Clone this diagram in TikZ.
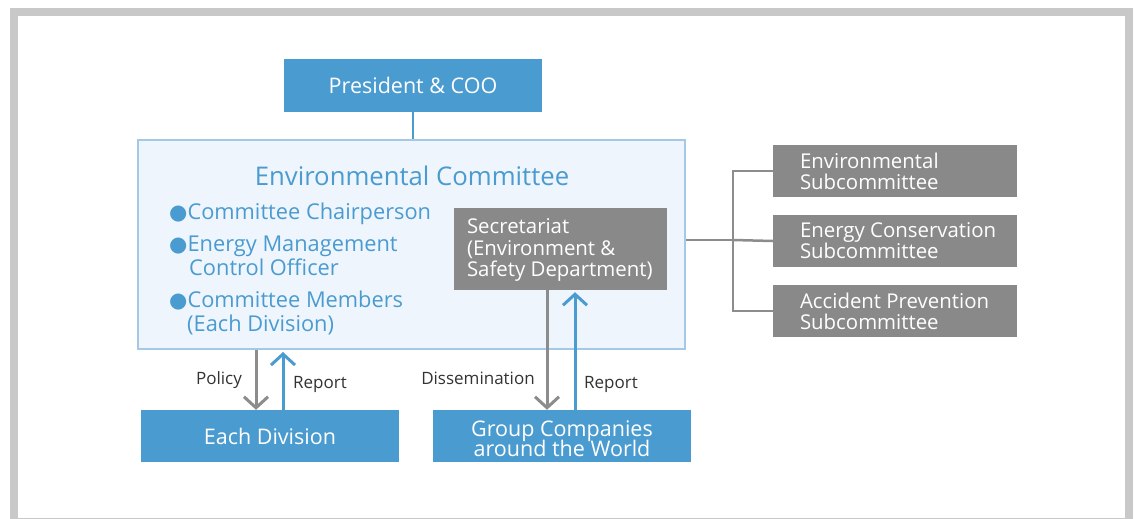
\documentclass[tikz,border=0pt]{standalone}
\usepackage{fontspec}
\setmainfont{Open Sans}
\newfontfamily\symfont{DejaVu Sans}
\usetikzlibrary{arrows.meta}
\definecolor{boxblue}{HTML}{4A9BCF}
\definecolor{textblue}{HTML}{4A9BD0}
\definecolor{boxgray}{HTML}{898989}
\definecolor{linegray}{HTML}{8C8C8C}
\definecolor{framegray}{HTML}{C8C8C8}
\definecolor{cfill}{HTML}{EFF5FC}
\definecolor{cborder}{HTML}{A5C8E6}
\definecolor{labeltext}{HTML}{333333}
\newcommand{\tightlines}{\lineskiplimit=-20pt\relax}
\tikzset{
  bluebox/.style={fill=boxblue, text=white, inner sep=0pt, align=center,
    minimum width=258pt, minimum height=52pt,
    font=\fontsize{21.5}{20}\selectfont, execute at begin node=\tightlines},
  graybox/.style={fill=boxgray, inner sep=0pt},
  graytext/.style={text=white, inner sep=0pt, anchor=west, align=left,
    font=\fontsize{20.4}{21}\selectfont, execute at begin node=\tightlines},
  item/.style={anchor=base west, text=textblue, inner sep=0pt,
    font=\fontsize{21.8}{24}\selectfont, align=left},
  flowlabel/.style={text=labeltext, inner sep=0pt, font=\fontsize{17}{17}\selectfont},
  downarrow/.style={draw=linegray, line width=3pt, -{Straight Barb[length=11pt,width=24pt]}},
  uparrow/.style={draw=boxblue, line width=3pt, -{Straight Barb[length=11pt,width=24pt]}},
  link/.style={draw=linegray, line width=2.5pt},
}
\newcommand{\bul}{{\symfont\fontsize{21}{21}\selectfont ●}}
\begin{document}
\begin{tikzpicture}[x=1pt, y=-1pt]
\useasboundingbox (0,0) rectangle (1135,519);
% outer frame
\fill[framegray] (10,8) rectangle (1133,519);
\fill[white] (18,16) rectangle (1125,517.5);

% top of the hierarchy
\node[bluebox] (coo) at (413,85.5) {President \& COO};

% committee panel
\node[draw=cborder, line width=2pt, fill=cfill, minimum width=547pt, minimum height=209pt,
      inner sep=0pt] (comm) at (411.5,244.5) {};
\draw[draw=boxblue, line width=2pt] (coo.south) -- (comm.north -| coo.south);
\node[text=textblue, inner sep=0pt, font=\fontsize{25.7}{26}\selectfont, anchor=base]
   (title) at (412,185) {Environmental Committee};
\node[item] (m1) at (169,219) {\bul Committee Chairperson};
\node[item] (m2) at (169,251) {\bul Energy Management};
\node[item] (m2b) at (189,275) {Control Officer};
\node[item] (m3) at (169,307) {\bul Committee Members};
\node[item] (m3b) at (187,331) {(Each Division)};

% secretariat
\node[graybox, minimum width=213pt, minimum height=82pt] (sec) at (560.5,249) {};
\node[graytext, font=\fontsize{20.4}{21.5}\selectfont] (sect)
  at ([xshift=13pt,yshift=-1pt]sec.west)
  {Secretariat\\(Environment \&\\Safety Department)};

% subcommittees
\node[graybox, minimum width=244pt, minimum height=52pt] (s1) at (895,171) {};
\node[graybox, minimum width=244pt, minimum height=52pt] (s2) at (895,241) {};
\node[graybox, minimum width=244pt, minimum height=52pt] (s3) at (895,311) {};
\node[graytext] (s1t) at ([xshift=27pt]s1.west) {Environmental\\Subcommittee};
\node[graytext] (s2t) at ([xshift=27pt]s2.west) {Energy Conservation\\Subcommittee};
\node[graytext] (s3t) at ([xshift=27pt]s3.west) {Accident Prevention\\Subcommittee};
\coordinate (fork) at (733,240);
\draw[link] (comm.east |- fork) -- (fork);
\draw[link] (s1.west) -| (fork) |- (s3.west);
\draw[link] (fork) -- (s2.west);

% lower units
\node[bluebox] (div) at (270,436) {Each Division};
\node[bluebox] (grp) at (562,436) {};
\node[bluebox, fill=none, minimum width=0pt, minimum height=0pt] (grpt)
  at ([yshift=-2.5pt]grp.center) {Group Companies\\around the World};

\draw[downarrow] (comm.south -| 256,0) -- (div.north -| 256,0);
\draw[uparrow] (div.north -| 283,0) -- ([yshift=-2pt]comm.south -| 283,0);
\draw[downarrow] (sec.south -| 547,0) -- (grp.north -| 547,0);
\draw[uparrow] (grp.north -| 575,0) -- ([yshift=-2pt]sec.south -| 575,0);

\node[flowlabel, anchor=base] (lp) at (219,384) {Policy};
\node[flowlabel, anchor=base] (lr1) at (320,388) {Report};
\node[flowlabel, anchor=base] (ld) at (478,384) {Dissemination};
\node[flowlabel, anchor=base] (lr2) at (611,388) {Report};
\end{tikzpicture}
\end{document}
